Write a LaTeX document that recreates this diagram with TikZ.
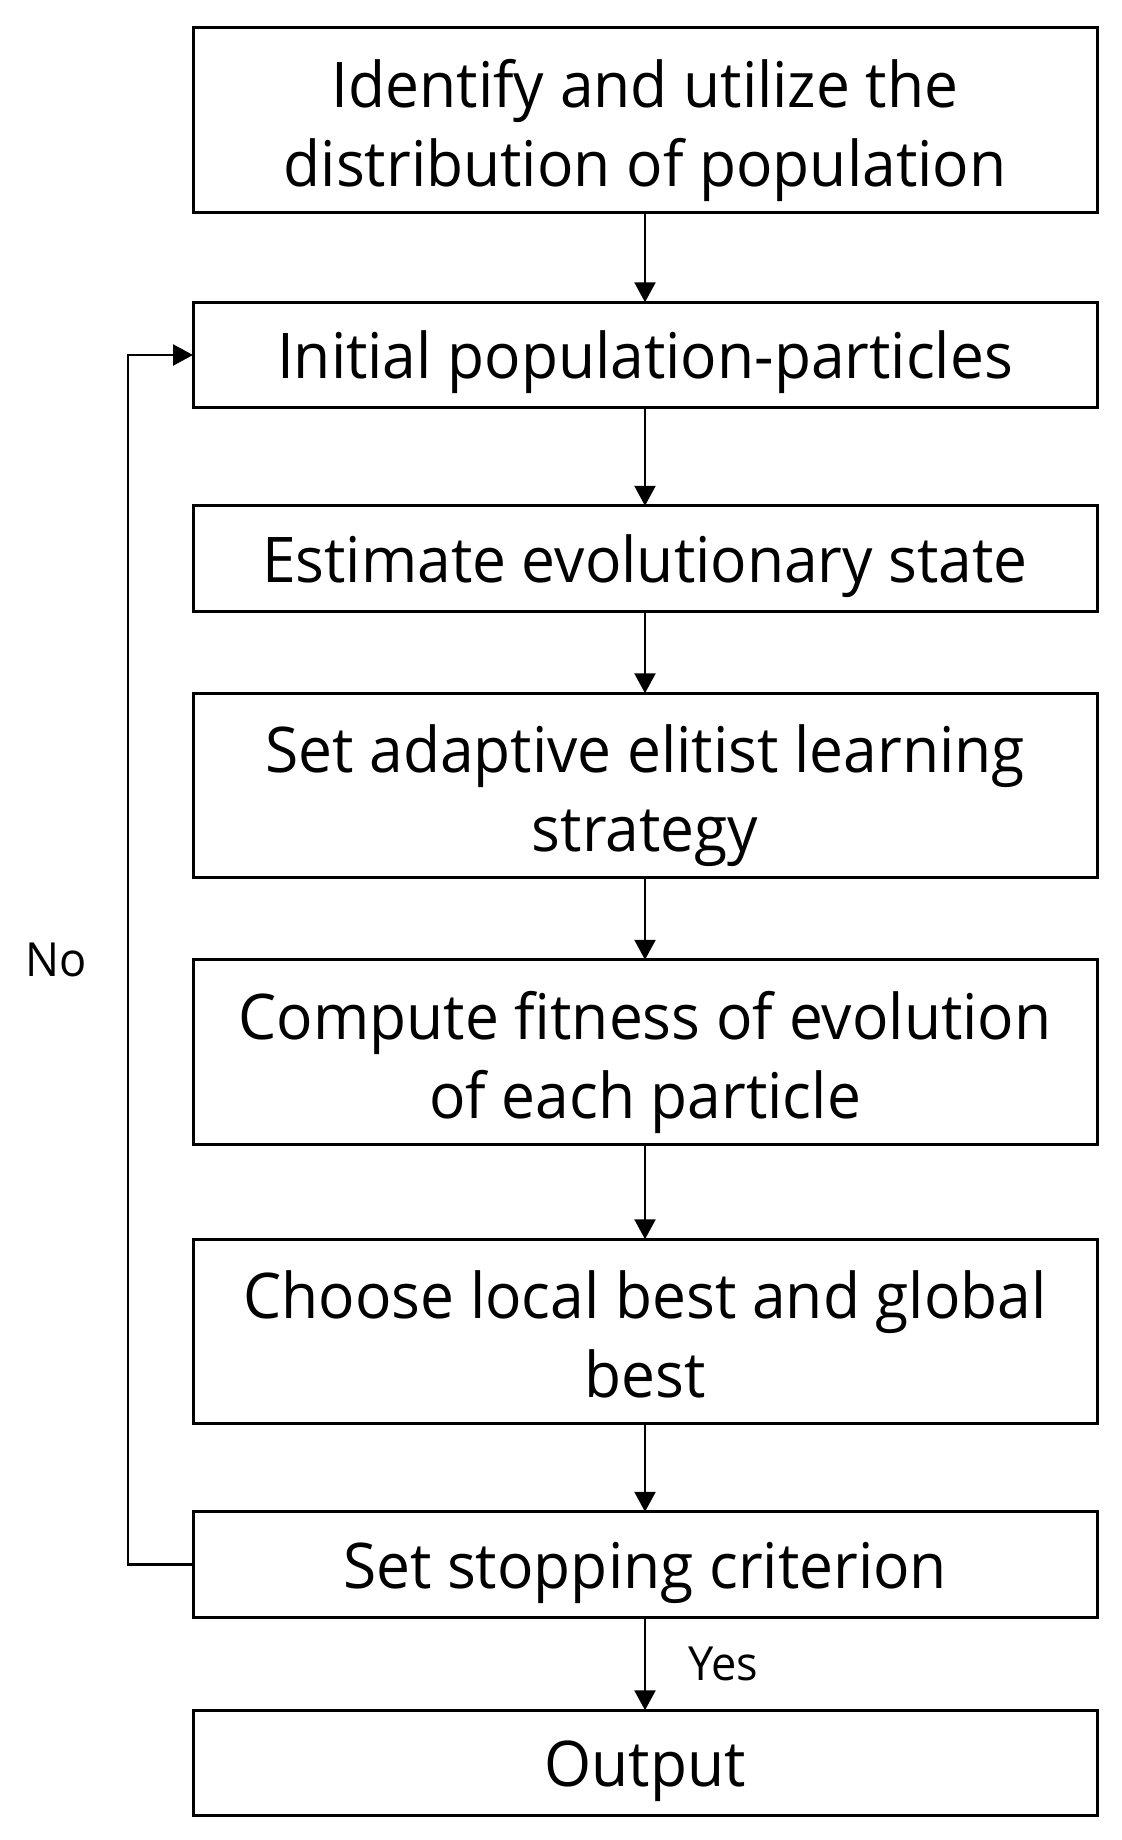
\documentclass[tikz,border=0pt]{standalone}
\usepackage{fontspec}
\setmainfont{Open Sans}[FakeStretch=0.96]
\usetikzlibrary{positioning,arrows.meta}

\begin{document}
\begin{tikzpicture}[x=1pt,y=1pt,
node distance = 90pt,
box/.style = {draw, line width=3pt, outer sep=0pt, inner sep=0pt,
              minimum width=904pt, minimum height=105.5pt, align=center,
              font=\fontsize{63}{79}\selectfont,
              execute at begin node={\rule[-16pt]{0pt}{79pt}},
              execute at end node={\rule[-16pt]{0pt}{79pt}}},
tallbox/.style = {box, minimum height=184.5pt,
              execute at begin node={\rule{0pt}{148pt}}},
flow/.style = {line width=2.5pt, -{Triangle[length=20pt,width=21pt]}},
lbl/.style = {inner sep=0pt, font=\fontsize{47}{56}\selectfont}
                        ]
\useasboundingbox (0,0) rectangle (1122,-1840);
%
\node (dist) [tallbox] at (645,-120) {Identify and utilize the\\distribution of population};
\node (init) [box, below=of dist] {Initial population-particles};
\node (est) [box, below=98pt of init] {Estimate evolutionary state};
\node (elite) [tallbox, below=82pt of est] {Set adaptive elitist learning\\strategy};
\node (fit) [tallbox, below=82pt of elite] {Compute fitness of evolution\\of each particle};
\node (best) [tallbox, below=95pt of fit] {Choose local best and global\\best};
\node (stop) [box, below=88pt of best] {Set stopping criterion};
\node (out) [box, below=93pt of stop] {Output};
%
\foreach \a/\b in {dist/init, init/est, est/elite, elite/fit, fit/best, best/stop}
    \draw[flow] (\a) -- (\b);
\draw[flow] (stop) -- node[lbl, right=42pt] {Yes} (out);
\draw[flow] (stop.west) -- ++(-65,0) |- node[lbl, pos=0.25, left=40pt] {No} (init.west);
\end{tikzpicture}
\end{document}
